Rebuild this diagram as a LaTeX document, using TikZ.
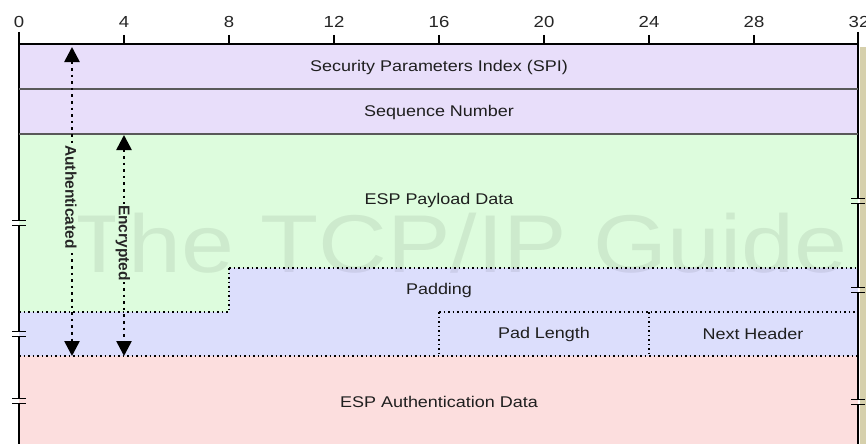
\documentclass[tikz,border=0pt]{standalone}
\usepackage{fontspec}
\usetikzlibrary{arrows.meta}
\setmainfont[FakeStretch=1.16]{Liberation Sans}
\newfontfamily\uprightlbl{Liberation Sans}

\definecolor{hdrfill}{RGB}{232,222,250}
\definecolor{payfill}{RGB}{221,252,221}
\definecolor{padfill}{RGB}{220,222,252}
\definecolor{authfill}{RGB}{252,222,222}
\definecolor{edgefill}{RGB}{214,208,172}

\tikzset{
  field/.style = {font=\fontsize{15.5}{18}\selectfont, text=black!88},
  bitnum/.style = {font=\fontsize{16}{18}\selectfont, text=black!85, anchor=base},
  rowline/.style = {color=black!65, line width=1.5pt},
  dotline/.style = {black, line width=1.2pt, dash pattern=on 1.5pt off 3pt},
  dotarrow/.style = {black, line width=2.6pt, dash pattern=on 2.6pt off 4pt,
                     {Triangle[length=15pt,width=15pt]}-{Triangle[length=15pt,width=15pt]}},
  sidelbl/.style = {font=\uprightlbl\bfseries\fontsize{15.5}{18}\selectfont, text=black!85,
                    rotate=-90, fill=payfill, inner sep=1pt}
}

\begin{document}
\begin{tikzpicture}[x=1pt, y=-1pt]
\useasboundingbox (0,0) rectangle (866,444);
\fill[white] (0,0) rectangle (866,444);
% field backgrounds
\fill[hdrfill] (19,44) rectangle (858,134);
\fill[payfill] (19,134) rectangle (858,268);
\fill[payfill] (19,268) rectangle (229,312);
\fill[padfill] (229,268) rectangle (858,312);
\fill[padfill] (19,312) rectangle (858,356);
\fill[authfill] (19,356) rectangle (858,444);
\fill[edgefill] (859.5,47) rectangle (866,444);
\node[font=\fontsize{82}{90}\selectfont, text=black, opacity=0.07] (watermark) at (459,243) {The TCP/IP Guide};
% ruler
\draw[black, line width=2pt] (18,44) -- (859,44);
\foreach \b in {4,8,...,28}
  \draw[black, line width=1.5pt] (19+\b*26.25,35) -- (19+\b*26.25,44);
\foreach \b in {0,4,...,32}
  \node[bitnum] (n\b) at (19+\b*26.25,28) {\b};
% side edges with breaks
\draw[black, line width=2pt] (19,32) -- (19,220.5) (19,225.5) -- (19,331.5)
  (19,336.5) -- (19,398.5) (19,403.5) -- (19,444);
\draw[black, line width=2pt] (858,32) -- (858,198.5) (858,203.5) -- (858,287.5)
  (858,292.5) -- (858,399.5) (858,404.5) -- (858,444);
\foreach \x/\y in {19/223, 19/334, 19/401, 858/201, 858/290, 858/402} {
  \draw[black, line width=1.5pt] (\x-7,\y-2.5) -- (\x+7,\y-2.5);
  \draw[black, line width=1.5pt] (\x-7,\y+2.5) -- (\x+7,\y+2.5);
}
% field borders
\draw[rowline] (19,89) -- (858,89);
\draw[rowline] (19,134) -- (858,134);
\draw[dotline] (229,268) -- (858,268);
\draw[dotline] (229,268) -- (229,312);
\draw[dotline] (19,312) -- (229,312);
\draw[dotline] (439,312) -- (858,312);
\draw[dotline] (439,312) -- (439,356);
\draw[dotline] (649,312) -- (649,356);
\draw[dotline] (19,356) -- (858,356);
% field names
\node[field] (spi) at (439,67) {Security Parameters Index (SPI)};
\node[field] (seqno) at (439,112) {Sequence Number};
\node[field] (payload) at (439,200) {ESP Payload Data};
\node[field] (padding) at (439,290) {Padding};
\node[field] (padlen) at (544,334) {Pad Length};
\node[field] (nexthdr) at (753,334) {Next Header};
\node[field] (authdata) at (439,402) {ESP Authentication Data};
% coverage arrows
\coordinate (authtop) at (72,47);
\coordinate (authbot) at (72,356);
\coordinate (enctop) at (124,135);
\coordinate (encbot) at (124,356);
\draw[dotarrow] (authtop) -- (authbot);
\draw[dotarrow] (enctop) -- (encbot);
\node[sidelbl] (authlbl) at (71,197) {Authenticated};
\node[sidelbl] (enclbl) at (123,243) {Encrypted};
\end{tikzpicture}
\end{document}
